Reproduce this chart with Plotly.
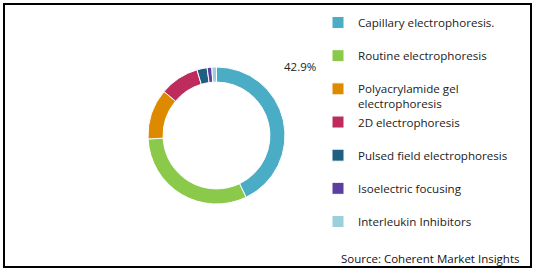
import plotly.graph_objects as go

labels = ["Capillary electrophoresis.", "Routine electrophoresis",
          "Polyacrylamide gel<br>electrophoresis", "2D electrophoresis",
          "Pulsed field electrophoresis", "Isoelectric focusing",
          "Interleukin Inhibitors"]
values = [42.9, 31.3, 11.9, 9.3, 2.4, 1.1, 1.1]
colors = ["#4BACC6", "#8BC94A", "#DD8A00", "#BE2C5E", "#1F5F80", "#5B3FA0", "#9CCFDC"]

W, H = 535, 272
FONT = "Open Sans"

# legend labels padded to two lines so every entry gets the same slot
leg_labels = [l if "<br>" in l else l + "<br> " for l in labels]

fig = go.Figure(go.Pie(
    labels=leg_labels, values=values, sort=False, direction="clockwise",
    rotation=0, hole=0.78, textinfo="none", hoverinfo="label+percent",
    marker=dict(colors=colors, line=dict(color="white", width=1)),
    domain=dict(x=[148 / W, 285 / W], y=[(H - 204) / H, (H - 67) / H]),
))

share = values[0] / sum(values) * 100
fig.add_annotation(text=f"{share:.1f}%", x=300 / W, y=1 - 66 / H, xref="paper", yref="paper",
                   yanchor="middle", showarrow=False,
                   font=dict(size=11.5, color="#222", family=FONT))
fig.add_annotation(text="Source: Coherent Market Insights", x=521 / W, y=1 - 258 / H,
                   xref="paper", yref="paper", xanchor="right", yanchor="middle",
                   showarrow=False, font=dict(size=11.5, color="#111", family=FONT))
fig.add_shape(type="rect", xref="paper", yref="paper", x0=4 / W, x1=531 / W,
              y0=1 - 267 / H, y1=1 - 4 / H, line=dict(color="black", width=2))

fig.update_layout(
    width=W, height=H, margin=dict(l=0, r=0, t=0, b=0),
    paper_bgcolor="white", plot_bgcolor="white",
    font=dict(family=FONT, size=11.5, color="#222"),
    legend=dict(x=318 / W, y=1 - 8.5 / H, xanchor="left", yanchor="top",
                valign="top", itemwidth=30, traceorder="normal",
                font=dict(size=11.6, family=FONT, color="#222"),
                bgcolor="rgba(0,0,0,0)"),
    showlegend=True,
)
fig.write_html("out.html")
